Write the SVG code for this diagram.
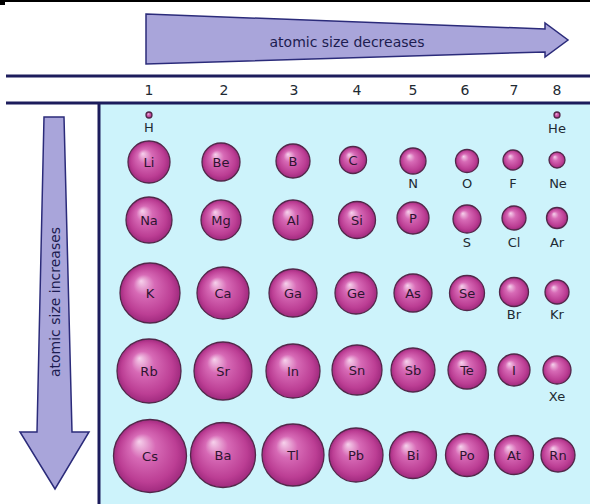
<svg xmlns="http://www.w3.org/2000/svg" width="590" height="504" viewBox="0 0 590 504">
<defs>
<radialGradient id="sph" cx="50%" cy="50%" r="50%" fx="35%" fy="30%">
<stop offset="0%" stop-color="#f6d2ec"/>
<stop offset="35%" stop-color="#d76ab6"/>
<stop offset="80%" stop-color="#bc3e94"/>
<stop offset="100%" stop-color="#a02a7e"/>
</radialGradient>
<style>
.s{fill:url(#sph);stroke:#52284a;stroke-width:1.3}
.in{font-family:"DejaVu Sans","Liberation Sans",sans-serif;font-size:13px;fill:#2e1430;text-anchor:middle;dominant-baseline:central}
.lb{font-family:"DejaVu Sans","Liberation Sans",sans-serif;font-size:13px;fill:#1e2a33;text-anchor:middle}
.num{font-family:"DejaVu Sans","Liberation Sans",sans-serif;font-size:14px;fill:#1e2a33;text-anchor:middle}
.ar{fill:#a9a5da;stroke:#2b2b7a;stroke-width:1.5;stroke-linejoin:miter}
.at{font-family:"DejaVu Sans","Liberation Sans",sans-serif;font-size:14px;fill:#1c1c50;text-anchor:middle}
.ln{stroke:#1c1c5c;stroke-width:3}
</style>
</defs>
<rect width="590" height="504" fill="#ffffff"/>
<rect x="99" y="103" width="491" height="401" fill="#cdf3fb"/>
<line x1="0" y1="1" x2="590" y2="1" stroke="#000" stroke-width="2"/>
<rect x="0" y="0" width="5" height="5" fill="#000"/>
<g id="frame">
<line class="ln" x1="6" y1="76" x2="590" y2="76"/>
<line class="ln" x1="6" y1="103" x2="590" y2="103"/>
<line class="ln" x1="99" y1="103" x2="99" y2="504"/>
</g>
<g id="arrow-top">
<polygon class="ar" points="146,14 545,29 545,23 568,40 545,57 545,52 146,64"/>
<text class="at" x="347" y="47">atomic size decreases</text>
</g>
<g id="arrow-left">
<polygon class="ar" points="44,117 64,117 72,432 89,432 55,489 20,432 37,432"/>
<text class="at" transform="translate(60,302) rotate(-90)">atomic size increases</text>
</g>
<g id="numbers">
<text class="num" x="149" y="95">1</text>
<text class="num" x="224" y="95">2</text>
<text class="num" x="294" y="95">3</text>
<text class="num" x="357" y="95">4</text>
<text class="num" x="413" y="95">5</text>
<text class="num" x="465" y="95">6</text>
<text class="num" x="514" y="95">7</text>
<text class="num" x="557" y="95">8</text>
</g>
<g id="H"><circle class="s" cx="149" cy="115" r="3"/><text class="lb" x="149" y="132">H</text></g>
<g id="He"><circle class="s" cx="557" cy="115" r="3"/><text class="lb" x="557" y="133">He</text></g>

<g id="Li"><circle class="s" cx="149" cy="162" r="21"/><text class="in" x="149" y="162">Li</text></g>
<g id="Be"><circle class="s" cx="221" cy="162" r="19"/><text class="in" x="221" y="162">Be</text></g>
<g id="B"><circle class="s" cx="293" cy="161" r="17"/><text class="in" x="293" y="161">B</text></g>
<g id="C"><circle class="s" cx="353" cy="160" r="13.5"/><text class="in" x="353" y="160">C</text></g>
<g id="N"><circle class="s" cx="413" cy="161" r="13"/><text class="lb" x="413" y="188">N</text></g>
<g id="O"><circle class="s" cx="467" cy="161" r="11.5"/><text class="lb" x="467" y="188">O</text></g>
<g id="F"><circle class="s" cx="513" cy="160" r="10"/><text class="lb" x="513" y="188">F</text></g>
<g id="Ne"><circle class="s" cx="557" cy="160" r="8"/><text class="lb" x="558" y="188">Ne</text></g>

<g id="Na"><circle class="s" cx="149" cy="220" r="23"/><text class="in" x="149" y="220">Na</text></g>
<g id="Mg"><circle class="s" cx="221" cy="220" r="20"/><text class="in" x="221" y="220">Mg</text></g>
<g id="Al"><circle class="s" cx="293" cy="220" r="20"/><text class="in" x="293" y="220">Al</text></g>
<g id="Si"><circle class="s" cx="357" cy="220" r="18.5"/><text class="in" x="357" y="220">Si</text></g>
<g id="P"><circle class="s" cx="413" cy="218" r="16"/><text class="in" x="413" y="218">P</text></g>
<g id="S"><circle class="s" cx="467" cy="219" r="14"/><text class="lb" x="467" y="247">S</text></g>
<g id="Cl"><circle class="s" cx="514" cy="218" r="12"/><text class="lb" x="514" y="247">Cl</text></g>
<g id="Ar"><circle class="s" cx="557" cy="218" r="10.5"/><text class="lb" x="557" y="247">Ar</text></g>

<g id="K"><circle class="s" cx="150" cy="293" r="30"/><text class="in" x="150" y="293">K</text></g>
<g id="Ca"><circle class="s" cx="223" cy="293" r="26"/><text class="in" x="223" y="293">Ca</text></g>
<g id="Ga"><circle class="s" cx="293" cy="293" r="24"/><text class="in" x="293" y="293">Ga</text></g>
<g id="Ge"><circle class="s" cx="356" cy="293" r="21"/><text class="in" x="356" y="293">Ge</text></g>
<g id="As"><circle class="s" cx="413" cy="293" r="19"/><text class="in" x="413" y="293">As</text></g>
<g id="Se"><circle class="s" cx="467" cy="293" r="17.5"/><text class="in" x="467" y="293">Se</text></g>
<g id="Br"><circle class="s" cx="514" cy="292" r="14.5"/><text class="lb" x="514" y="319">Br</text></g>
<g id="Kr"><circle class="s" cx="557" cy="292" r="12"/><text class="lb" x="557" y="319">Kr</text></g>

<g id="Rb"><circle class="s" cx="149" cy="371" r="32"/><text class="in" x="149" y="371">Rb</text></g>
<g id="Sr"><circle class="s" cx="223" cy="371" r="29"/><text class="in" x="223" y="371">Sr</text></g>
<g id="In"><circle class="s" cx="293" cy="371" r="27"/><text class="in" x="293" y="371">In</text></g>
<g id="Sn"><circle class="s" cx="357" cy="370" r="25"/><text class="in" x="357" y="370">Sn</text></g>
<g id="Sb"><circle class="s" cx="413" cy="370" r="22"/><text class="in" x="413" y="370">Sb</text></g>
<g id="Te"><circle class="s" cx="467" cy="370" r="19"/><text class="in" x="467" y="370">Te</text></g>
<g id="I"><circle class="s" cx="514" cy="370" r="16"/><text class="in" x="514" y="370">I</text></g>
<g id="Xe"><circle class="s" cx="557" cy="370" r="14"/><text class="lb" x="557" y="401">Xe</text></g>

<g id="Cs"><circle class="s" cx="150" cy="456" r="36.5"/><text class="in" x="150" y="456">Cs</text></g>
<g id="Ba"><circle class="s" cx="223" cy="455" r="32.5"/><text class="in" x="223" y="455">Ba</text></g>
<g id="Tl"><circle class="s" cx="293" cy="455" r="31"/><text class="in" x="293" y="455">Tl</text></g>
<g id="Pb"><circle class="s" cx="356" cy="455" r="27"/><text class="in" x="356" y="455">Pb</text></g>
<g id="Bi"><circle class="s" cx="413" cy="455" r="23.5"/><text class="in" x="413" y="455">Bi</text></g>
<g id="Po"><circle class="s" cx="467" cy="455" r="21.5"/><text class="in" x="467" y="455">Po</text></g>
<g id="At"><circle class="s" cx="514" cy="455" r="19.5"/><text class="in" x="514" y="455">At</text></g>
<g id="Rn"><circle class="s" cx="558" cy="455" r="17"/><text class="in" x="558" y="455">Rn</text></g>
</svg>
